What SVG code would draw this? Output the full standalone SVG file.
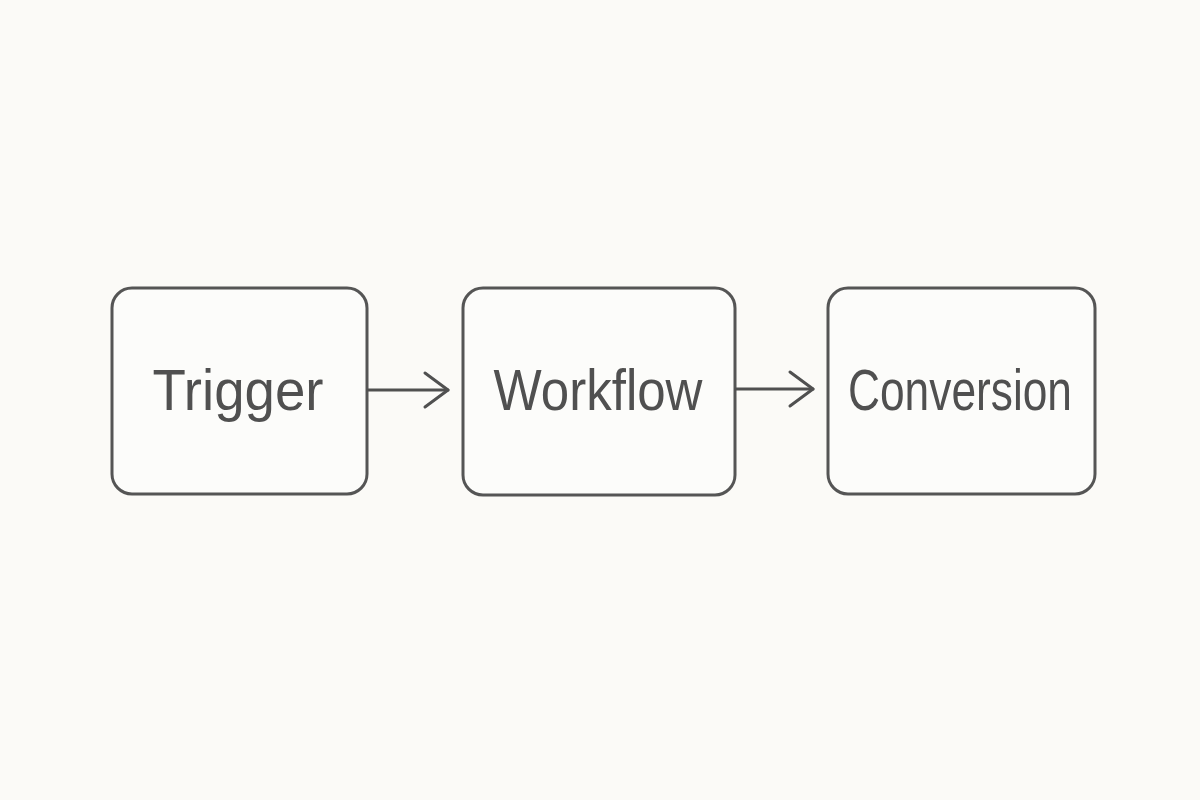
<svg xmlns="http://www.w3.org/2000/svg" width="1200" height="800" viewBox="0 0 1200 800">
<defs>
<style>
.box{fill:#fcfcfa;stroke:#555555;stroke-width:3}
.lbl{font-family:"Liberation Sans",Arial,sans-serif;font-size:58px;fill:#505050;text-anchor:middle}
.con{stroke:#505050;stroke-width:3;fill:none;stroke-linecap:round;stroke-linejoin:round}
</style>
<marker id="arr" viewBox="0 0 30 40" refX="26" refY="20" markerWidth="30" markerHeight="40" markerUnits="userSpaceOnUse" orient="auto">
<path d="M3,3 L26,20 L3,37" fill="none" stroke="#505050" stroke-width="3" stroke-linecap="round" stroke-linejoin="round"/>
</marker>
</defs>
<rect width="1200" height="800" fill="#fbfaf7"/>
<g id="trigger">
<rect class="box" x="112" y="288" width="255" height="206" rx="20"/>
<text class="lbl" x="238" y="410" textLength="171" lengthAdjust="spacingAndGlyphs">Trigger</text>
</g>
<g id="workflow">
<rect class="box" x="463" y="288" width="272" height="207" rx="20"/>
<text class="lbl" x="598" y="410" textLength="209" lengthAdjust="spacingAndGlyphs">Workflow</text>
</g>
<g id="conversion">
<rect class="box" x="828" y="288" width="267" height="206" rx="20"/>
<text class="lbl" x="960" y="410" textLength="224" lengthAdjust="spacingAndGlyphs">Conversion</text>
</g>
<g id="connectors">
<line class="con" x1="368" y1="390" x2="448" y2="390" marker-end="url(#arr)"/>
<line class="con" x1="736" y1="389" x2="813" y2="389" marker-end="url(#arr)"/>
</g>
</svg>
